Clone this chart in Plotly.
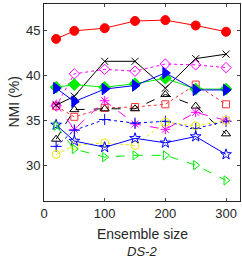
import plotly.graph_objects as go

sizes = [20, 50, 100, 150, 200, 250, 300]

s_red_circle = [44.1, 45.0, 45.3, 46.1, 46.2, 45.6, 44.9]
s_black_x = [36.7, 37.7, 41.6, 41.6, 38.6, 41.9, 42.4]
s_mag_diamond = [36.6, 40.2, 40.7, 40.5, 41.3, 41.2, 40.9]
s_green_diamond = [38.7, 39.0, 38.7, 39.1, 39.7, 38.5, 38.5]
s_blue_tri = [38.6, 37.1, 38.5, 38.9, 40.3, 38.4, 38.4]
s_red_square = [36.6, 35.4, 36.4, 36.5, 36.8, 39.0, 36.8]
s_black_tri = [32.9, 36.2, 36.3, 36.3, 37.9, 36.6, 33.5]
s_mag_ast = [36.8, 34.0, 37.2, 34.6, 34.0, 35.9, 35.0]
s_blue_plus = [32.1, 33.9, 35.1, 34.7, 34.9, 34.1, 34.9]
s_yellow_circle = [31.2, 32.2, 32.5, 32.2, 34.8, 34.4, 35.0]
s_blue_star = [34.5, 32.7, 32.0, 33.0, 32.5, 33.2, 31.2]
s_green_tri = [34.4, 31.8, 30.9, 31.1, 31.1, 30.0, 28.3]

x_ticks = [0, 100, 200, 300]
y_ticks = [30, 35, 40, 45]

series = [
    (s_red_square, "#FF3333", "dot", "square-open", 7),
    (s_black_tri, "#000000", "dash", "triangle-up-open", 8),
    (s_mag_ast, "#FF00FF", "dash", "asterisk-open", 8),
    (s_blue_plus, "#0000FF", "dot", "cross-thin-open", 8),
    (s_yellow_circle, "#E6E600", "dot", "circle-open", 8),
    (s_blue_star, "#0000FF", "solid", "star-open", 8),
    (s_green_tri, "#00EE00", "dash", "triangle-right-open", 8),
    (s_mag_diamond, "#FF00FF", "dot", "diamond-open", 8),
    (s_black_x, "#000000", "solid", "x-thin-open", 7),
    (s_green_diamond, "#00EE00", "solid", "diamond", 9),
    (s_blue_tri, "#0000FF", "solid", "triangle-right", 10),
    (s_red_circle, "#FF0000", "solid", "circle", 9),
]

fig = go.Figure()
for vals, col, dash, sym, sz in series:
    fig.add_trace(go.Scatter(
        x=sizes, y=vals, mode="lines+markers",
        line=dict(color=col, width=1, dash=dash),
        marker=dict(symbol=sym, size=sz, color=col,
                    line=dict(color=col, width=1)),
        showlegend=False,
    ))

axis_col = "#262626"
fig.update_layout(
    width=242, height=259,
    margin=dict(l=44, r=2, t=4, b=58),
    paper_bgcolor="white", plot_bgcolor="white",
    font=dict(family="Liberation Sans, Arial", size=13, color=axis_col),
    xaxis=dict(range=[0, 323], tickvals=x_ticks, ticks="inside", ticklen=3,
               showline=True, linecolor=axis_col, linewidth=1, mirror="ticks",
               showgrid=False, zeroline=False, tickfont=dict(size=13)),
    yaxis=dict(range=[26, 48], tickvals=y_ticks, ticks="inside", ticklen=3,
               showline=True, linecolor=axis_col, linewidth=1, mirror="ticks",
               showgrid=False, zeroline=False, tickfont=dict(size=13)),
    annotations=[
        dict(text="Ensemble size", xref="paper", yref="paper", x=0.5, y=-0.165,
             showarrow=False, font=dict(size=14, color=axis_col), yanchor="middle"),
        dict(text="<i>DS-2</i>", xref="paper", yref="paper", x=0.5, y=-0.255,
             showarrow=False, font=dict(size=13, color=axis_col), yanchor="middle"),
        dict(text="NMI (%)", xref="paper", yref="paper", x=-0.158, y=0.5,
             showarrow=False, textangle=-90, font=dict(size=14, color=axis_col),
             xanchor="center", yanchor="middle"),
    ],
)

fig.write_html("out.html", config={"displayModeBar": False},
               post_script="document.body.style.margin='0';document.body.style.overflow='hidden';")
